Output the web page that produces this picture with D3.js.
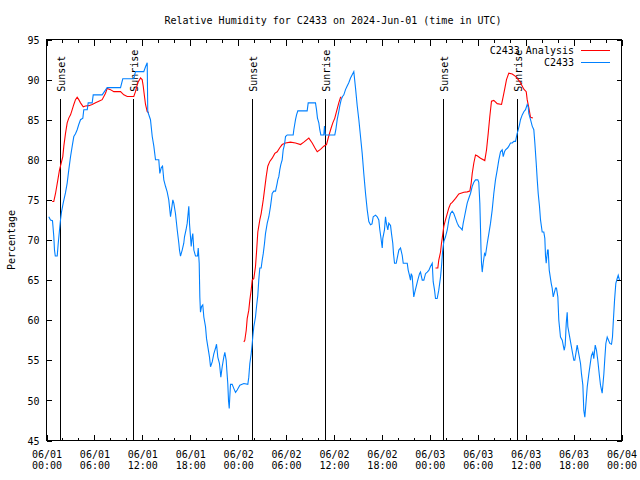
<!DOCTYPE html>
<html>
<head>
<meta charset="utf-8">
<script src="https://cdn.jsdelivr.net/npm/d3@7"></script>
<style>
  html, body { margin: 0; padding: 0; background: #fff; }
  svg { display: block; }
  text { font-family: "DejaVu Sans Mono", "Liberation Mono", monospace; font-size: 10px; fill: #000; }
</style>
</head>
<body>
<div id="chart"></div>
<script>
// ---------------- DATA ----------------
const chartTitle = "Relative Humidity for C2433 on 2024-Jun-01 (time in UTC)";
const yLabel = "Percentage";
const seriesNames = ["C2433 Analysis", "C2433"];
const startUTC = Date.UTC(2024, 5, 1, 0, 0);   // 06/01 00:00 UTC
const endUTC = Date.UTC(2024, 5, 4, 0, 0);     // 06/04 00:00 UTC

// x tick positions (hours from start) and y ticks
const xMajorHours = [0, 6, 12, 18, 24, 30, 36, 42, 48, 54, 60, 66, 72];
const xMinorHours = [2, 4, 8, 10, 14, 16, 20, 22, 26, 28, 32, 34, 38, 40, 44, 46, 50, 52, 56, 58, 62, 64, 68, 70];
const yTicks = [45, 50, 55, 60, 65, 70, 75, 80, 85, 90, 95];

// Sunset / sunrise markers (hours from start)
const sunHours = [1.79, 10.93, 25.83, 34.97, 49.75, 59.02];
const sunLabels = ["Sunset", "Sunrise", "Sunset", "Sunrise", "Sunset", "Sunrise"];

// Observations C2433 (hours from start, %)
const obsHours = [0.29,0.50,0.75,0.91,1.00,1.10,1.34,1.47,1.63,1.75,1.88,2.09,2.38,2.59,2.79,3.01,3.22,3.42,3.63,3.84,
  4.04,4.26,4.55,4.67,5.10,5.22,5.72,5.85,6.97,7.60,9.27,9.55,10.93,11.14,12.18,12.40,12.61,12.68,13.02,13.24,
  13.44,13.65,14.06,14.19,14.36,14.53,14.69,14.90,15.11,15.31,15.53,15.65,15.82,15.94,16.15,16.37,16.57,16.65,16.78,16.99,
  17.19,17.28,17.47,17.62,17.82,17.91,18.03,18.12,18.24,18.32,18.45,18.66,18.91,19.00,19.12,19.20,19.28,19.41,19.57,19.70,
  19.91,20.04,20.20,20.41,20.54,20.75,20.95,21.16,21.29,21.45,21.66,21.83,22.00,22.20,22.33,22.50,22.58,22.70,22.79,22.88,
  22.95,23.04,23.25,23.45,23.67,23.88,24.21,24.71,25.21,25.33,25.46,25.63,25.76,25.83,25.96,26.17,26.30,26.46,26.58,26.71,
  26.88,27.01,27.14,27.30,27.42,27.64,27.84,28.05,28.26,28.46,28.68,28.89,28.96,29.09,29.21,29.34,29.51,29.64,29.80,29.93,
  30.14,30.89,30.97,31.18,31.31,31.47,32.64,32.77,33.68,33.81,33.93,34.10,34.22,34.35,34.72,34.81,34.90,36.10,36.23,36.40,
  36.60,36.73,36.90,37.07,37.23,37.44,37.65,37.85,38.07,38.28,38.48,38.69,38.91,39.11,39.32,39.53,39.73,39.95,40.16,40.36,
  40.57,40.76,40.91,41.20,41.41,41.61,41.74,41.86,42.04,42.11,42.32,42.45,42.57,42.74,42.86,43.08,43.20,43.36,43.45,43.58,
  43.79,43.91,44.12,44.33,44.54,44.67,45.17,45.29,45.45,45.58,45.67,45.79,45.92,45.99,46.12,46.29,46.49,46.71,46.83,47.05,
  47.25,47.46,47.67,47.87,48.08,48.30,48.42,48.59,48.71,48.92,49.12,49.34,49.46,49.59,49.75,49.96,50.18,50.38,50.59,50.80,
  51.00,51.22,51.43,51.63,51.84,52.05,52.18,52.34,52.51,52.68,52.88,53.09,53.31,53.51,53.72,54.01,54.13,54.26,54.35,54.41,
  54.47,54.56,54.68,54.85,54.97,55.19,55.39,55.60,55.81,56.01,56.22,56.44,56.64,56.85,57.06,57.19,57.35,57.48,57.76,57.89,
  58.10,58.32,58.52,58.73,58.85,58.94,59.07,59.23,59.35,59.57,59.77,59.98,60.19,60.32,60.39,60.61,60.82,61.02,61.15,61.32,
  61.45,61.57,61.73,61.86,62.07,62.27,62.40,62.48,62.57,62.74,62.82,62.95,63.20,63.32,63.45,63.74,63.86,64.03,64.15,64.36,
  64.58,64.70,64.83,64.95,65.08,65.20,65.28,66.03,66.15,66.28,66.45,66.65,66.87,66.99,67.16,67.28,67.41,67.53,67.71,67.91,
  68.12,68.24,68.41,68.53,68.71,68.87,69.03,69.21,69.37,69.58,69.79,69.91,70.04,70.21,70.54,70.75,70.87,70.96,71.13,71.29,
  71.46,71.59,71.75];
const obsValues = [72.9,72.5,72.4,70.5,68.75,68.0,68.0,69.6,71.25,72.5,73.5,74.6,75.9,77.1,78.75,80.4,81.7,82.9,83.25,83.75,
  84.4,85.0,85.2,86.25,86.25,87.1,87.1,88.1,88.1,89.0,89.0,90.1,90.1,91.0,91.0,91.6,92.1,86.0,85.0,82.9,
  81.7,80.0,80.0,78.3,79.0,79.2,77.5,76.7,76.0,75.0,72.9,73.75,75.0,74.6,73.3,71.25,69.6,68.75,68.0,68.75,
  69.6,70.4,71.25,72.1,74.2,72.0,70.4,69.2,70.4,70.8,68.75,68.0,68.0,69.0,67.1,62.9,61.0,61.7,61.9,60.4,
  59.2,57.7,56.7,55.4,54.2,54.8,55.8,56.5,57.0,55.4,54.6,52.9,54.2,55.4,56.0,55.0,53.75,52.1,50.0,49.0,
  50.4,52.0,52.0,51.5,51.0,51.3,51.9,52.1,52.0,52.9,54.6,55.8,57.1,57.9,59.2,60.4,61.7,63.1,65.0,66.5,
  66.5,67.5,68.3,69.6,70.8,72.1,72.9,74.2,75.8,76.1,76.1,77.1,77.5,77.9,78.75,79.4,80.0,81.25,81.9,82.9,
  83.1,83.1,83.75,85.0,85.6,86.1,86.1,87.1,87.1,86.25,85.2,84.6,83.75,83.1,83.1,84.2,83.1,83.1,83.75,85.0,
  86.0,86.75,87.5,87.9,88.1,88.75,89.2,89.6,90.2,90.6,91.0,89.0,86.7,85.0,82.9,80.8,78.3,75.8,73.75,72.3,
  71.9,72.0,72.9,73.1,72.9,72.5,71.25,70.4,69.0,70.2,71.25,72.9,72.0,71.25,72.1,71.8,70.8,69.6,68.3,67.1,
  67.1,67.7,68.75,69.0,68.1,67.1,67.1,66.25,65.6,65.0,65.8,65.5,63.75,62.9,63.5,64.2,65.0,65.8,66.0,65.0,
  65.0,65.8,66.0,66.2,66.7,67.1,64.8,63.75,62.7,62.7,63.75,65.4,66.7,68.5,69.8,70.4,71.25,72.5,73.3,73.6,
  73.3,72.7,72.1,71.7,71.5,71.25,72.1,72.9,73.75,74.6,75.2,75.8,76.7,77.2,77.5,77.5,77.2,74.6,71.25,68.75,
  67.1,66.0,67.1,68.3,68.1,69.6,70.8,72.1,73.75,75.8,77.5,78.75,80.0,81.0,81.25,80.4,81.0,81.25,81.5,81.7,
  82.1,82.1,82.3,82.3,82.9,83.3,83.75,84.4,85.0,85.6,86.0,86.25,86.9,86.6,85.8,85.0,84.2,83.75,82.1,79.6,
  77.5,75.8,74.2,72.5,71.0,71.0,70.2,68.1,67.1,68.75,68.75,66.25,64.6,64.0,62.9,64.0,64.0,62.9,60.0,57.9,
  57.5,56.9,56.25,56.9,59.6,61.0,59.2,55.0,55.0,55.8,56.9,55.8,54.6,53.3,51.9,48.75,47.9,49.4,51.7,53.3,
  54.8,55.6,56.0,55.2,56.9,56.25,55.0,53.3,51.9,50.9,53.3,55.2,57.1,57.9,57.1,57.0,57.9,59.6,62.5,64.6,
  65.2,65.6,65.0];

// Analysis C2433 (hours from start, %); null = no analysis (gap)
const anaHours = [0.71,0.91,1.13,1.42,1.63,1.84,2.04,2.17,2.38,2.59,2.79,3.01,3.22,3.42,3.63,3.84,4.04,4.26,4.60,4.88,
  5.30,5.72,6.14,6.55,6.97,7.39,7.60,8.01,8.43,9.27,9.68,10.11,10.93,11.14,11.43,11.77,11.98,12.11,12.27,12.40,
  12.61,12.81,18.0,
  24.71,24.83,25.01,25.13,25.33,25.46,25.63,25.76,25.96,26.17,26.30,26.46,26.71,26.88,27.14,27.30,27.51,27.71,27.96,28.26,
  28.59,28.89,29.21,29.51,29.93,30.55,31.18,31.81,32.22,32.85,33.27,33.60,33.90,34.31,34.72,35.06,35.22,35.44,35.65,35.85,
  36.10,36.31,36.60,36.82,36.94,42.0,
  48.71,49.00,49.12,49.34,49.46,49.63,49.75,49.96,50.18,50.38,50.59,50.80,51.22,51.63,52.26,52.68,53.01,53.18,53.31,53.51,
  53.72,53.93,54.35,54.88,55.10,55.31,55.51,55.72,56.01,56.44,56.98,57.19,57.39,57.60,57.89,58.32,58.73,59.07,59.35,59.77,
  60.07,60.19,60.39,60.61,60.90];
const anaValues = [74.8,74.8,75.8,77.5,78.75,79.6,80.4,81.7,83.3,84.6,85.2,85.6,86.25,86.9,87.5,87.8,87.5,87.1,86.6,86.7,
  86.75,86.9,87.1,87.3,87.5,88.3,88.9,88.75,88.5,88.5,88.1,87.9,87.9,88.5,89.6,90.2,90.0,89.2,87.9,86.9,
  86.0,85.9,null,
  57.3,57.5,58.75,60.2,61.25,62.5,63.75,65.0,65.2,66.7,68.5,71.0,72.5,73.3,75.0,76.25,77.9,79.2,79.8,80.2,
  80.8,81.0,81.5,81.9,82.1,82.2,82.1,81.9,82.2,82.7,82.1,81.5,81.0,81.3,81.7,81.9,82.5,83.3,84.0,84.6,
  85.2,86.0,87.1,87.8,87.8,null,
  66.5,66.5,67.5,68.5,69.6,70.8,71.7,72.5,73.3,74.0,74.5,74.7,75.2,75.75,75.96,76.0,76.1,77.1,78.3,79.6,
  80.6,80.5,80.2,79.9,81.25,83.3,85.4,87.3,87.4,87.0,86.9,87.9,88.9,90.0,90.8,90.7,90.4,90.0,89.6,88.8,
  88.5,87.5,86.5,85.3,85.2];

const colors = { analysis: "#ff0000", obs: "#0080ff", frame: "#000000" };

// ---------------- CHART ----------------
const W = 640, H = 480;
const plot = { left: 46.5, right: 621.5, top: 39.5, bottom: 440.5 };
const HOUR = 3600 * 1000;
const toDate = h => new Date(startUTC + h * HOUR);

const svg = d3.select("#chart").append("svg")
  .attr("width", W).attr("height", H)
  .attr("viewBox", `0 0 ${W} ${H}`);

svg.append("rect").attr("width", W).attr("height", H).attr("fill", "#fff");

const x = d3.scaleUtc().domain([new Date(startUTC), new Date(endUTC)]).range([plot.left, plot.right]);
const y = d3.scaleLinear().domain([45, 95]).range([plot.bottom, plot.top]);

const crisp = g => g.attr("shape-rendering", "crispEdges");

// minor x ticks (bottom & top)
svg.append("g").attr("transform", `translate(0,${plot.bottom})`)
  .call(d3.axisBottom(x).tickValues(xMinorHours.map(toDate)).tickSize(-3).tickFormat(""))
  .call(g => g.select(".domain").remove())
  .call(crisp);
svg.append("g").attr("transform", `translate(0,${plot.top})`)
  .call(d3.axisTop(x).tickValues(xMinorHours.map(toDate)).tickSize(-3).tickFormat(""))
  .call(g => g.select(".domain").remove())
  .call(crisp);

// major x ticks with two-line labels
const fmtDate = d3.utcFormat("%m/%d"), fmtTime = d3.utcFormat("%H:%M");
const xAxisG = svg.append("g").attr("transform", `translate(0,${plot.bottom})`)
  .call(d3.axisBottom(x).tickValues(xMajorHours.map(toDate)).tickSize(-6).tickPadding(9).tickFormat(""))
  .call(g => g.select(".domain").remove())
  .call(crisp);
xAxisG.selectAll(".tick text").each(function(d) {
  const t = d3.select(this).attr("dy", null).attr("y", 0)
    .attr("font-family", null).attr("font-size", null);
  t.append("tspan").attr("x", 0).attr("y", 17).text(fmtDate(d));
  t.append("tspan").attr("x", 0).attr("y", 28).text(fmtTime(d));
});
svg.append("g").attr("transform", `translate(0,${plot.top})`)
  .call(d3.axisTop(x).tickValues(xMajorHours.map(toDate)).tickSize(-6).tickFormat(""))
  .call(g => g.select(".domain").remove())
  .call(crisp);

// y axis (left labelled, right mirror)
svg.append("g").attr("transform", `translate(${plot.left},0)`)
  .call(d3.axisLeft(y).tickValues(yTicks).tickSize(-5).tickPadding(7).tickFormat(d3.format("d")))
  .call(g => g.select(".domain").remove())
  .call(g => g.selectAll("text").attr("font-family", null).attr("font-size", null).attr("dy", "0.36em"))
  .call(crisp);
svg.append("g").attr("transform", `translate(${plot.right},0)`)
  .call(d3.axisRight(y).tickValues(yTicks).tickSize(-5).tickFormat(""))
  .call(g => g.select(".domain").remove())
  .call(crisp);

// Frame
svg.append("rect")
  .attr("x", plot.left).attr("y", plot.top)
  .attr("width", plot.right - plot.left).attr("height", plot.bottom - plot.top)
  .attr("fill", "none").attr("stroke", colors.frame).attr("stroke-width", 1)
  .attr("shape-rendering", "crispEdges");

// Sunset / sunrise lines
const sunTopFrac = 0.852;
const sunG = svg.append("g");
sunHours.forEach((h, i) => {
  const xx = Math.floor(x(toDate(h))) + 0.5;
  const yTop = plot.bottom - sunTopFrac * (plot.bottom - plot.top);
  sunG.append("line")
    .attr("x1", xx).attr("x2", xx).attr("y1", plot.bottom).attr("y2", yTop)
    .attr("stroke", "#000").attr("stroke-width", 1).attr("shape-rendering", "crispEdges");
  sunG.append("text")
    .attr("transform", `translate(${xx + 0.5},${yTop - 7}) rotate(-90)`)
    .attr("dy", "0.36em")
    .attr("text-anchor", "start")
    .text(sunLabels[i]);
});

// Series lines
const clip = svg.append("clipPath").attr("id", "plotclip")
  .append("rect").attr("x", plot.left).attr("y", plot.top)
  .attr("width", plot.right - plot.left).attr("height", plot.bottom - plot.top);

const anaData = anaHours.map((h, i) => ({ t: toDate(h), v: anaValues[i] }));
const obsData = obsHours.map((h, i) => ({ t: toDate(h), v: obsValues[i] }));

const line = d3.line()
  .defined(d => d.v != null)
  .x(d => x(d.t)).y(d => y(d.v));

svg.append("path").datum(anaData)
  .attr("clip-path", "url(#plotclip)")
  .attr("d", line).attr("fill", "none")
  .attr("stroke", colors.analysis).attr("stroke-width", 1.1)
  .attr("stroke-linejoin", "miter");

svg.append("path").datum(obsData)
  .attr("clip-path", "url(#plotclip)")
  .attr("d", line).attr("fill", "none")
  .attr("stroke", colors.obs).attr("stroke-width", 1.1)
  .attr("stroke-linejoin", "miter");

// Legend
const legend = svg.append("g");
const legendItems = [
  { name: seriesNames[0], color: colors.analysis, y: 50.5 },
  { name: seriesNames[1], color: colors.obs, y: 62.5 }
];
legendItems.forEach(it => {
  legend.append("text").attr("x", 574).attr("y", it.y).attr("dy", "0.36em")
    .attr("text-anchor", "end").text(it.name);
  legend.append("line").attr("x1", 581).attr("x2", 610).attr("y1", it.y).attr("y2", it.y)
    .attr("stroke", it.color).attr("stroke-width", 1).attr("shape-rendering", "crispEdges");
});

// Title and y label
svg.append("text").attr("x", 333).attr("y", 20).attr("dy", "0.36em")
  .attr("text-anchor", "middle").text(chartTitle);
svg.append("text")
  .attr("transform", `translate(11,240) rotate(-90)`)
  .attr("dy", "0.36em").attr("text-anchor", "middle").text(yLabel);
</script>
</body>
</html>
